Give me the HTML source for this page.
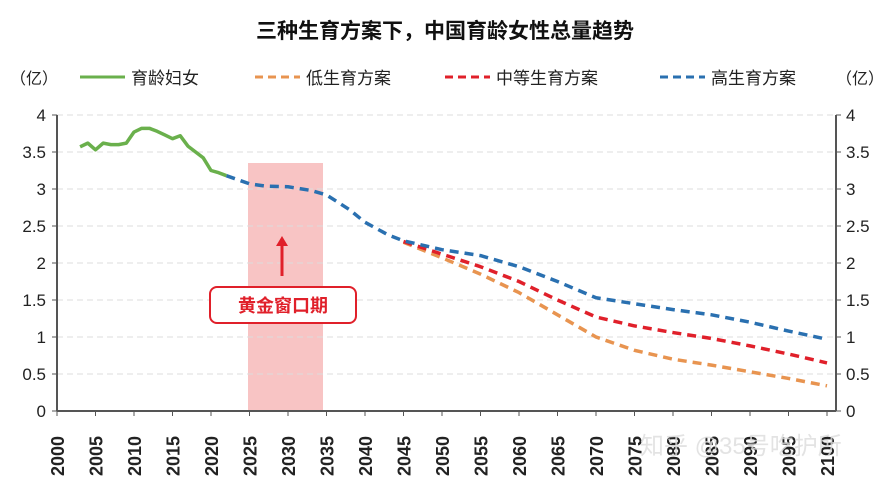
<!DOCTYPE html>
<html><head><meta charset="utf-8"><style>
body{margin:0;background:#fff;width:887px;height:483px;overflow:hidden;font-family:"Liberation Sans","Noto Sans CJK SC",sans-serif}
</style></head><body>
<svg id="s" width="887" height="483" xmlns="http://www.w3.org/2000/svg" font-family="Liberation Sans, Noto Sans CJK SC, sans-serif">
<text x="445" y="38" text-anchor="middle" font-size="21" font-weight="bold" fill="#111">三种生育方案下，中国育龄女性总量趋势</text>
<text x="10" y="84" font-size="16" fill="#222">（亿）</text>
<text x="836" y="84" font-size="16" fill="#222">（亿）</text>
<line x1="80" y1="77" x2="125" y2="77" stroke="#6ab04c" stroke-width="3"/>
<text x="131" y="84" font-size="17" fill="#222">育龄妇女</text>
<line x1="255" y1="77" x2="300" y2="77" stroke="#e89450" stroke-width="3" stroke-dasharray="8,5"/>
<text x="306" y="84" font-size="17" fill="#222">低生育方案</text>
<line x1="445" y1="77" x2="490" y2="77" stroke="#e0202a" stroke-width="3" stroke-dasharray="8,5"/>
<text x="496" y="84" font-size="17" fill="#222">中等生育方案</text>
<line x1="660" y1="77" x2="705" y2="77" stroke="#2a70b0" stroke-width="3" stroke-dasharray="8,5"/>
<text x="711" y="84" font-size="17" fill="#222">高生育方案</text>
<rect x="248" y="163" width="75" height="248" fill="#f8c4c4"/>
<g id="g"></g>
<line x1="282" y1="276" x2="282" y2="244" stroke="#e0202a" stroke-width="3"/>
<polygon points="276,246 288,246 282,236" fill="#e0202a"/>
<rect x="210" y="287" width="146" height="36" rx="7" fill="#fff" stroke="#e0202a" stroke-width="2"/>
<text x="283" y="312" text-anchor="middle" font-size="18" font-weight="bold" fill="#e0202a">黄金窗口期</text>
<text x="640" y="454" font-size="24" fill="#ddd" opacity="0.8">知乎 @35号吃护所</text>
</svg>
<script>
const g=document.getElementById('g');let h='';
const X=y=>57+(y-2000)*7.7, Y=v=>411-v*74;
for(let i=0;i<=8;i++){const v=i*0.5,y=Y(v);
 if(i>0)h+=`<line x1="57" y1="${y}" x2="836" y2="${y}" stroke="#ddd" stroke-dasharray="6,4" stroke-width="1"/>`;
 h+=`<line x1="52" y1="${y}" x2="57" y2="${y}" stroke="#555"/><line x1="836" y1="${y}" x2="841" y2="${y}" stroke="#555"/>`;
 h+=`<text x="46" y="${y+6}" text-anchor="end" font-size="17" fill="#222">${v}</text><text x="846" y="${y+6}" font-size="17" fill="#222">${v}</text>`;}
h+=`<line x1="57" y1="115" x2="57" y2="411" stroke="#555" stroke-width="2"/><line x1="836" y1="115" x2="836" y2="411" stroke="#555" stroke-width="2"/><line x1="57" y1="411" x2="836" y2="411" stroke="#555" stroke-width="2"/>`;
for(let yr=2000;yr<=2100;yr+=5){const x=X(yr);h+=`<line x1="${x}" y1="411" x2="${x}" y2="416" stroke="#555"/><text transform="translate(${x+7},${476}) rotate(-90)" font-size="18" font-weight="bold" fill="#222">${yr}</text>`;}
const P=(d,c,dash)=>`<polyline fill="none" stroke="${c}" stroke-width="3.5" ${dash?'stroke-dasharray="9,6"':''} stroke-linejoin="round" points="${d.map(p=>X(p[0])+','+Y(p[1])).join(' ')}"/>`;
const common=[[2022,3.18],[2025,3.07],[2027,3.04],[2030,3.03],[2033,2.98],[2035,2.92],[2038,2.72],[2040,2.55],[2043,2.38],[2045,2.3]];
h+=P([[2045,2.28],[2050,2.07],[2055,1.85],[2060,1.6],[2065,1.3],[2070,1.0],[2075,0.82],[2080,0.7],[2085,0.62],[2090,0.53],[2095,0.44],[2100,0.34]],'#e89450',1);
h+=P([[2045,2.29],[2050,2.12],[2055,1.95],[2060,1.75],[2065,1.5],[2070,1.27],[2075,1.15],[2080,1.06],[2085,0.98],[2090,0.88],[2095,0.77],[2100,0.65]],'#e0202a',1);
h+=P(common.concat([[2050,2.18],[2055,2.1],[2060,1.95],[2065,1.75],[2070,1.53],[2075,1.45],[2080,1.37],[2085,1.3],[2090,1.2],[2095,1.08],[2100,0.97]]),'#2a70b0',1);
h+=P([[2003,3.57],[2004,3.62],[2005,3.53],[2006,3.62],[2007,3.6],[2008,3.6],[2009,3.62],[2010,3.77],[2011,3.82],[2012,3.82],[2013,3.78],[2014,3.73],[2015,3.68],[2016,3.72],[2017,3.58],[2018,3.5],[2019,3.42],[2020,3.25],[2021,3.22],[2022,3.18]],'#6ab04c',0);
g.innerHTML=h;
</script>
</body></html>
